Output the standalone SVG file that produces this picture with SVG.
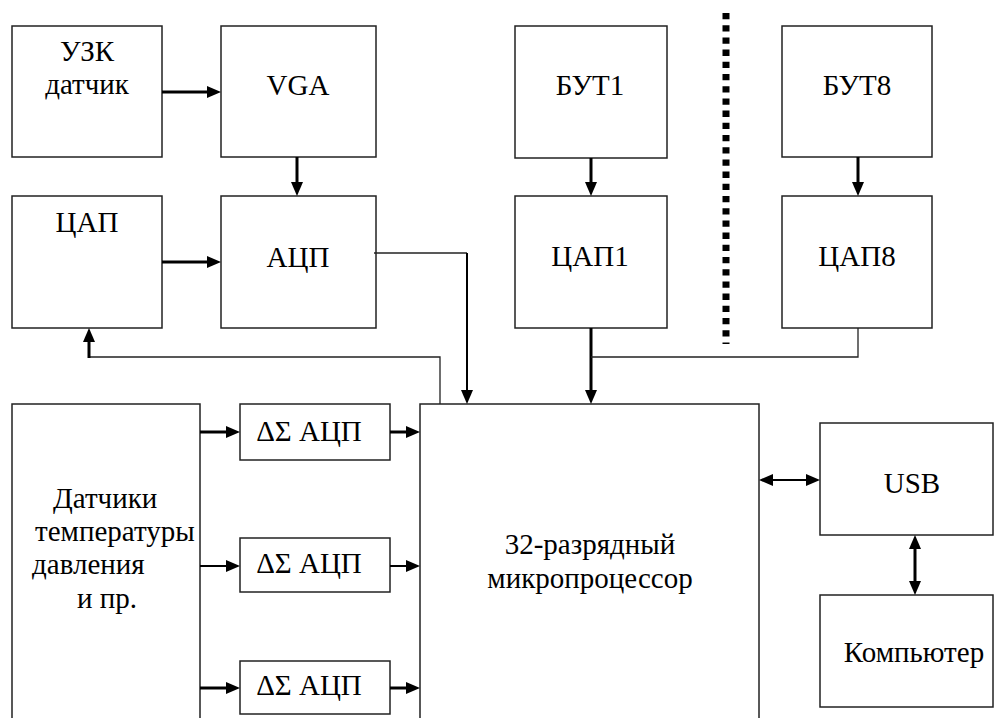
<svg xmlns="http://www.w3.org/2000/svg" width="995" height="718" viewBox="0 0 995 718">
<defs>
<style>
.box{fill:#fff;stroke:#222;stroke-width:1.5}
text{font-family:'Liberation Serif','DejaVu Serif','Noto Serif',serif;font-size:29px;fill:#000}
.m{text-anchor:middle}
.thick{stroke:#000;stroke-width:3;fill:none}
.mid{stroke:#000;stroke-width:2;fill:none}
.thin{stroke:#222;stroke-width:1.3;fill:none}
</style>
<marker id="ah" markerWidth="14" markerHeight="12" refX="0" refY="6" orient="auto-start-reverse" markerUnits="userSpaceOnUse"><path d="M0,0 L14,6 L0,12 z" fill="#000"/></marker>
</defs>
<rect width="995" height="718" fill="#fff"/>

<g font-family="Liberation Serif, DejaVu Serif, serif">
<g id="uzk"><rect class="box" x="12" y="26" width="150" height="131"/><text class="m" x="87" y="61">УЗК</text><text class="m" x="87" y="94">датчик</text></g>
<g id="vga"><rect class="box" x="221" y="26" width="155" height="131"/><text class="m" x="298" y="95">VGA</text></g>
<g id="dac"><rect class="box" x="12" y="196" width="150" height="132"/><text class="m" x="87" y="232">ЦАП</text></g>
<g id="adc"><rect class="box" x="221" y="196" width="155" height="132"/><text class="m" x="298" y="267">АЦП</text></g>
<g id="but1"><rect class="box" x="515" y="26" width="152" height="132"/><text class="m" x="590" y="95">БУТ1</text></g>
<g id="dac1"><rect class="box" x="515" y="196" width="152" height="132"/><text class="m" x="590" y="266">ЦАП1</text></g>
<g id="but8"><rect class="box" x="782" y="26" width="150" height="131"/><text class="m" x="857" y="95">БУТ8</text></g>
<g id="dac8"><rect class="box" x="782" y="196" width="150" height="132"/><text class="m" x="857" y="266">ЦАП8</text></g>
<g id="sep"><line x1="726" y1="13" x2="726" y2="344" stroke="#000" stroke-width="7" stroke-dasharray="6.3 5.9"/></g>
<g id="sensors"><rect class="box" x="12" y="404" width="188" height="330"/>
<text x="53" y="508">Датчики</text><text x="35" y="541">температуры</text><text x="32" y="574">давления</text><text x="77" y="608">и пр.</text></g>
<g id="ds1"><rect class="box" x="240" y="404" width="150" height="56"/><text class="m" x="309" y="441">ΔΣ АЦП</text></g>
<g id="ds2"><rect class="box" x="240" y="538" width="150" height="54"/><text class="m" x="309" y="573">ΔΣ АЦП</text></g>
<g id="ds3"><rect class="box" x="240" y="661" width="150" height="53"/><text class="m" x="309" y="695">ΔΣ АЦП</text></g>
<g id="cpu"><rect class="box" x="420" y="404" width="339" height="330"/><text class="m" x="590" y="554">32-разрядный</text><text class="m" x="590" y="588">микропроцессор</text></g>
<g id="usb"><rect class="box" x="820" y="423" width="173" height="112"/><text class="m" x="912" y="493">USB</text></g>
<g id="pc"><rect class="box" x="820" y="595" width="173" height="112"/><text class="m" x="914" y="662">Компьютер</text></g>
</g>

<g id="connectors">
<line class="thick" x1="162" y1="92" x2="207" y2="92" marker-end="url(#ah)"/>
<line class="thick" x1="297" y1="157" x2="297" y2="182" marker-end="url(#ah)"/>
<line class="thick" x1="162" y1="262" x2="207" y2="262" marker-end="url(#ah)"/>
<line class="thick" x1="591" y1="158" x2="591" y2="182" marker-end="url(#ah)"/>
<line class="thick" x1="858" y1="157" x2="858" y2="182" marker-end="url(#ah)"/>
<polyline class="thin" points="374,253 467,253"/>
<line class="mid" x1="467" y1="253" x2="467" y2="390" marker-end="url(#ah)"/>
<line class="thick" x1="591" y1="328" x2="591" y2="390" marker-end="url(#ah)"/>
<polyline class="thin" points="858,328 858,357 591,357"/>
<polyline class="thin" points="440,404 440,357 89,357"/>
<line class="thick" x1="89" y1="358" x2="89" y2="342" marker-end="url(#ah)"/>
<line class="thick" x1="200" y1="432" x2="226" y2="432" marker-end="url(#ah)"/>
<line class="mid" x1="200" y1="566" x2="226" y2="566" marker-end="url(#ah)"/>
<line class="thick" x1="200" y1="688" x2="226" y2="688" marker-end="url(#ah)"/>
<line class="thick" x1="390" y1="432" x2="406" y2="432" marker-end="url(#ah)"/>
<line class="mid" x1="390" y1="566" x2="406" y2="566" marker-end="url(#ah)"/>
<line class="thick" x1="390" y1="688" x2="406" y2="688" marker-end="url(#ah)"/>
<line class="mid" x1="773" y1="480" x2="806" y2="480" marker-start="url(#ah)" marker-end="url(#ah)"/>
<line class="thick" x1="915" y1="549" x2="915" y2="581" marker-start="url(#ah)" marker-end="url(#ah)"/>
</g>
</svg>
